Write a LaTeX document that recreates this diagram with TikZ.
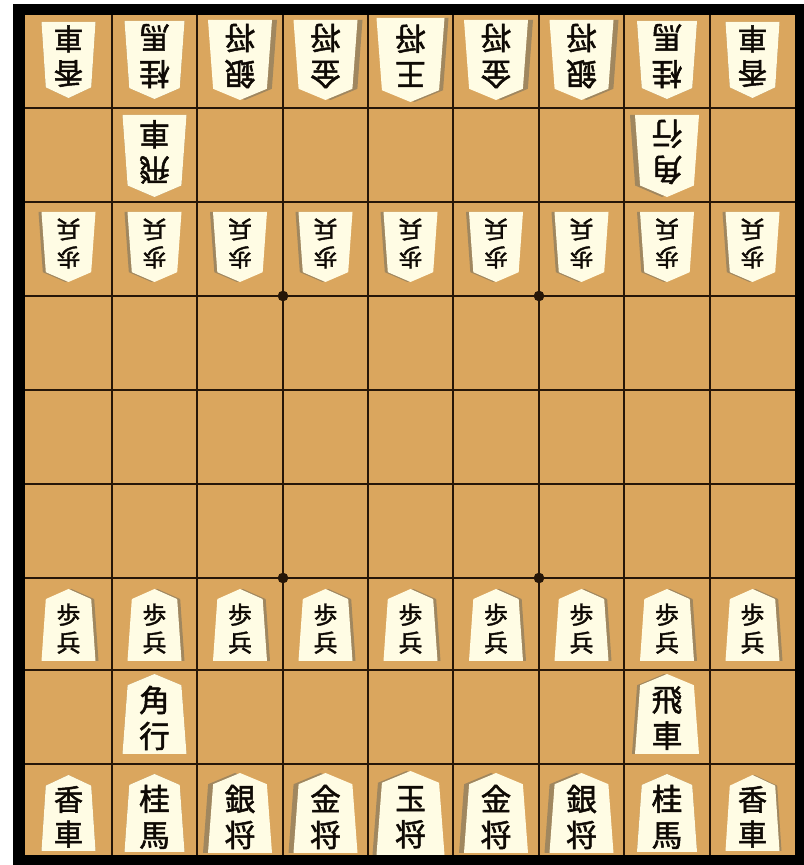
\documentclass[tikz,border=0pt]{standalone}
\usepackage{fontspec}
\newfontfamily\jp[FakeBold=1.6]{Noto Sans CJK JP}
\definecolor{boardcol}{RGB}{218,166,94}
\definecolor{gridcol}{RGB}{38,22,8}
\definecolor{facecol}{RGB}{255,252,228}
\definecolor{shadecol}{RGB}{160,135,95}
\definecolor{inkcol}{RGB}{15,10,5}
\tikzset{
  komaface/.style={fill=facecol},
  komashade/.style={fill=shadecol},
  komabig/.style={font=\jp\fontsize{23}{27}\selectfont, align=center, inner sep=0pt, text=inkcol},
  komamid/.style={font=\jp\fontsize{22}{26}\selectfont, align=center, inner sep=0pt, text=inkcol},
  komasmall/.style={font=\jp\fontsize{18}{21}\selectfont, align=center, inner sep=0pt, text=inkcol},
  gridline/.style={draw=gridcol, line width=1.9pt},
}
% #1 name, #2 cx, #3 cy, #4 w, #5 h, #6 rotation, #7 text style, #8 text, #9 shadow offset
\newcommand\koma[9]{%
  \begin{scope}[shift={(#2,#3)}, rotate=#6]
    \fill[komashade, shift={(#9,0)}] (-#4/2,-#5/2) -- (#4/2,-#5/2) -- (0.42*#4,0.36*#5) -- (0,#5/2) -- (-0.42*#4,0.36*#5) -- cycle;
    \fill[komaface] (-#4/2,-#5/2) -- (#4/2,-#5/2) -- (0.42*#4,0.36*#5) -- (0,#5/2) -- (-0.42*#4,0.36*#5) -- cycle;
    \node[#7, rotate=#6] (#1) at (0,-0.05*#5) {#8};
  \end{scope}}
\begin{document}
\begin{tikzpicture}[x=0.75pt,y=0.75pt]
\useasboundingbox (0,0) rectangle (804,865);
\fill[white] (0,0) rectangle (804,865);
% frame and board
\fill[black] (13,0) rectangle (804,861);
\fill[boardcol] (25,10) rectangle (795,850);
% grid
\foreach \x in {112,197,283,368,453,539,624,710} \draw[gridline] (\x,10) -- (\x,850);
\foreach \y in {757,663,569,475,381,287,195,101} \draw[gridline] (25,\y) -- (795,\y);
\foreach \x/\y in {283/569,539/569,283/287,539/287} \fill[gridcol] (\x,\y) circle[radius=4pt];
% ---- bottom side (upright) ----
\koma{b91}{68.5}{52}{54}{76}{0}{komamid}{香\\車}{0}
\koma{b92}{154.5}{52}{60}{78}{0}{komabig}{桂\\馬}{0}
\koma{b93}{240}{52}{64}{80}{0}{komabig}{銀\\将}{-5}
\koma{b94}{325.5}{52}{64}{80}{0}{komabig}{金\\将}{-5}
\koma{b95}{410.5}{52}{68}{84}{0}{komabig}{玉\\将}{-4}
\koma{b96}{496}{52}{64}{80}{0}{komabig}{金\\将}{-5}
\koma{b97}{581.5}{52}{64}{80}{0}{komabig}{銀\\将}{-5}
\koma{b98}{667}{52}{60}{78}{0}{komabig}{桂\\馬}{0}
\koma{b99}{752.5}{52}{54}{76}{0}{komamid}{香\\車}{2}
\koma{b82}{154.5}{151}{64}{80}{0}{komabig}{角\\行}{0}
\koma{b88}{667}{151}{64}{80}{0}{komabig}{飛\\車}{-3}
\foreach \c/\x in {1/68.5,2/154.5,3/240,4/325.5,5/410.5,6/496,7/581.5,8/667,9/752.5}
  {\koma{b7\c}{\x}{240}{54}{72}{0}{komasmall}{歩\\兵}{3}}
% ---- top side (rotated) ----
\koma{t11}{68.5}{805}{54}{76}{180}{komamid}{香\\車}{0}
\koma{t12}{154.5}{805}{60}{78}{180}{komabig}{桂\\馬}{0}
\koma{t13}{240}{805}{64}{80}{180}{komabig}{銀\\将}{-5}
\koma{t14}{325.5}{805}{64}{80}{180}{komabig}{金\\将}{-5}
\koma{t15}{410.5}{805}{68}{84}{180}{komabig}{王\\将}{-4}
\koma{t16}{496}{805}{64}{80}{180}{komabig}{金\\将}{-5}
\koma{t17}{581.5}{805}{64}{80}{180}{komabig}{銀\\将}{-5}
\koma{t18}{667}{805}{60}{78}{180}{komabig}{桂\\馬}{0}
\koma{t19}{752.5}{805}{54}{76}{180}{komamid}{香\\車}{0}
\koma{t22}{154.5}{709}{64}{82}{180}{komabig}{飛\\車}{0}
\koma{t28}{667}{709}{64}{82}{180}{komabig}{角\\行}{5}
\foreach \c/\x in {1/68.5,2/154.5,3/240,4/325.5,5/410.5,6/496,7/581.5,8/667,9/752.5}
  {\koma{t3\c}{\x}{618}{54}{70}{180}{komasmall}{歩\\兵}{3}}
\end{tikzpicture}
\end{document}
